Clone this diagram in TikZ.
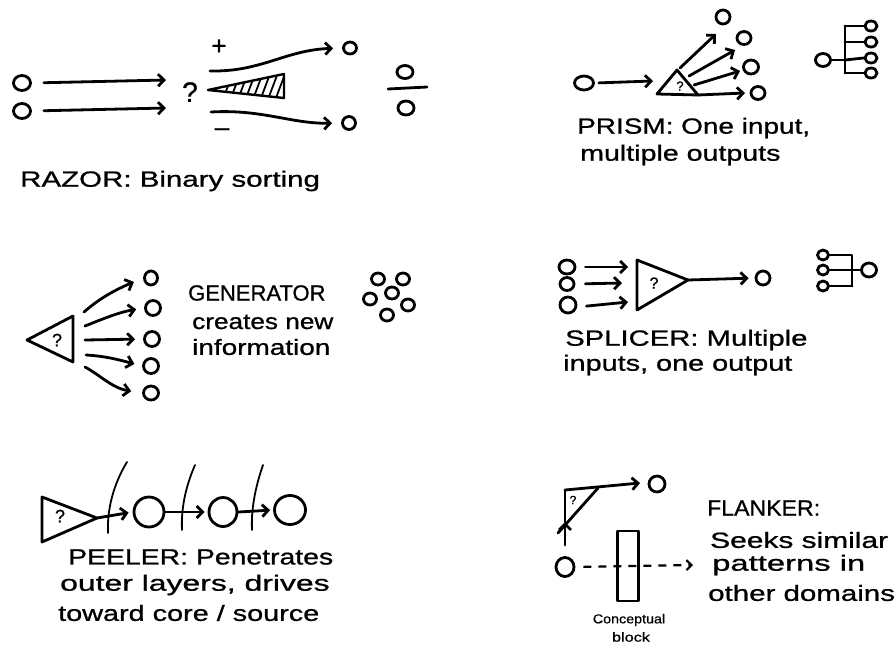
\documentclass[tikz,border=0pt]{standalone}
\usepackage{fontspec}
\setmainfont{Liberation Sans}[FakeBold=0.8,UprightFeatures={FakeBold=0.8}]
\usetikzlibrary{arrows.meta,shapes.geometric}
\newcommand\hx[2]{\scalebox{#1}[1]{#2}}
\begin{document}
\begin{tikzpicture}[x=1pt,y=-1pt,
  ln/.style={line width=2.8pt,line cap=round,line join=round},
  thin/.style={line width=1.8pt,line cap=round},
  arr/.style={ln,-{Straight Barb[length=6pt,width=12pt]}},
  circ/.style={draw,ellipse,ln,inner sep=0pt},
  lbl/.style={anchor=west,inner sep=0pt,font=\fontsize{22}{26}\selectfont},
  qm/.style={inner sep=0pt,font=\fontsize{16}{16}\selectfont}]
\fill[white] (0,0) rectangle (896,648);
\useasboundingbox (0,0) rectangle (896,648);

% ---------------- RAZOR ----------------
\node[circ,minimum width=17pt,minimum height=15pt] (rin1) at (22,83) {};
\node[circ,minimum width=17pt,minimum height=15pt] (rin2) at (22,111) {};
\node[qm,font=\fontsize{28}{28}\selectfont] (rq) at (190,92) {?};
\coordinate (ra1) at (166,80);
\coordinate (ra2) at (166,108);
\draw[arr,shorten <=12pt] (rin1.east) -- (ra1);
\draw[arr,shorten <=12pt] (rin2.east) -- (ra2);
\node[circ,minimum width=13pt,minimum height=12pt] (rout1) at (350,48) {};
\node[circ,minimum width=13pt,minimum height=13pt] (rout2) at (349,123) {};
\coordinate (rc1) at (210,71);
\coordinate (rc2) at (211,112);
\draw[arr,shorten >=9pt] (rc1) .. controls (262,72) and (285,50) .. (rout1.west);
\draw[arr,shorten >=9pt] (rc2) .. controls (262,109) and (292,124) .. (rout2.west);
\node[inner sep=0pt,font=\fontsize{26}{26}\selectfont] (plus) at (219,47) {+};
\node[inner sep=0pt,font=\fontsize{26}{26}\selectfont] (minus) at (222,132) {–};
\coordinate (wt) at (208,90);
\coordinate (wa) at (284,74);
\coordinate (wb) at (284,98);
\begin{scope}
  \clip (wt) -- (wa) -- (wb) -- cycle;
  \foreach \i in {0,...,12} \draw[line width=1.8pt] (222+\i*7.5,102) -- (234+\i*7.5,70);
\end{scope}
\draw[line width=2.4pt,line join=round] (wt) -- (wa) -- (wb) -- cycle;
\node[circ,minimum width=16pt,minimum height=13pt] (fr1) at (405,72) {};
\coordinate (fl1) at (388,89);
\coordinate (fl2) at (427,87);
\draw[ln] (fl1) -- (fl2);
\node[circ,minimum width=16pt,minimum height=14pt] (fr2) at (406,108) {};
\node[lbl] (razor) at (20,181) {\hx{1.34}{RAZOR: Binary sorting}};

% ---------------- PRISM ----------------
\node[circ,minimum width=19pt,minimum height=14pt] (pin) at (584,83) {};
\coordinate (pt1) at (657,94);
\coordinate (pt2) at (677,70);
\coordinate (pt3) at (698,95);
\coordinate (pa0) at (653,81);
\draw[arr,shorten <=4pt] (pin.east) -- (pa0);
\draw[ln] (pt1) -- (pt2) -- (pt3) -- cycle;
\node[qm,font=\fontsize{13}{13}\selectfont] (pq) at (680,86) {?};
\node[circ,minimum width=14pt,minimum height=14pt] (po1) at (723,17) {};
\node[circ,minimum width=14pt,minimum height=13pt] (po2) at (744,38) {};
\node[circ,minimum width=15pt,minimum height=14pt] (po3) at (751,67) {};
\node[circ,minimum width=14pt,minimum height=13pt] (po4) at (758,93) {};
\coordinate (ps1) at (680,68);
\coordinate (ps2) at (689,76);
\coordinate (ps3) at (694,85);
\coordinate (pe1) at (716,34);
\coordinate (pe2) at (735,50);
\coordinate (pe3) at (740,71);
\coordinate (pe4) at (745,93);
\draw[arr] (ps1) -- (pe1);
\draw[arr] (ps2) -- (pe2);
\draw[arr] (ps3) -- (pe3);
\draw[arr] (pt3) -- (pe4);
\node[circ,minimum width=15pt,minimum height=13pt] (tin) at (823,60) {};
\coordinate (tj) at (845,60);
\coordinate (t1) at (845,26);
\coordinate (t2) at (845,42);
\coordinate (t4) at (845,73);
\node[circ,minimum width=12pt,minimum height=10pt] (to1) at (871,26) {};
\node[circ,minimum width=12pt,minimum height=10pt] (to2) at (871,42) {};
\node[circ,minimum width=12pt,minimum height=10pt] (to3) at (871,58) {};
\node[circ,minimum width=12pt,minimum height=10pt] (to4) at (871,73) {};
\draw[ln] (tin.east) -- (tj);
\draw[ln] (t1) -- (t4);
\draw[ln] (t1) -- (to1.west);
\draw[ln] (t2) -- (to2.west);
\draw[ln] (tj) -- (to3.west);
\draw[ln] (t4) -- (to4.west);
\node[lbl] (prism1) at (577,128) {\hx{1.27}{PRISM: One input,}};
\node[lbl] (prism2) at (580,155) {\hx{1.30}{multiple outputs}};

% ---------------- GENERATOR ----------------
\coordinate (gt) at (27,340);
\coordinate (gu) at (73,316);
\coordinate (gd) at (73,362);
\draw[ln] (gt) -- (gu) -- (gd) -- cycle;
\node[qm,font=\fontsize{18}{18}\selectfont] (gq) at (57,340) {?};
\node[circ,minimum width=13pt,minimum height=14pt] (g1) at (151,278) {};
\node[circ,minimum width=15pt,minimum height=15pt] (g2) at (153,308) {};
\node[circ,minimum width=15pt,minimum height=15pt] (g3) at (152,339) {};
\node[circ,minimum width=15pt,minimum height=15pt] (g4) at (151,366) {};
\node[circ,minimum width=15pt,minimum height=14pt] (g5) at (151,393) {};
\coordinate (gs1) at (84,312);
\coordinate (gs2) at (85,326);
\coordinate (gs3) at (85,340);
\coordinate (gs4) at (86,355);
\coordinate (gs5) at (85,367);
\draw[arr,shorten >=10pt] (gs1) .. controls (100,298) and (115,290) .. (g1.west);
\draw[arr,shorten >=8pt] (gs2) .. controls (105,318) and (120,312) .. (g2.west);
\draw[arr,shorten >=8pt] (gs3) -- (g3.west);
\draw[arr,shorten >=8pt] (gs4) .. controls (105,356) and (120,360) .. (g4.west);
\draw[arr,shorten >=11pt] (gs5) .. controls (100,375) and (112,388) .. (g5.west);
\node[lbl] (gen1) at (188,293) {\hx{1.0}{GENERATOR}};
\node[lbl] (gen2) at (192,322) {\hx{1.19}{creates new}};
\node[lbl] (gen3) at (192,347) {\hx{1.27}{information}};
\node[circ,minimum width=13pt,minimum height=12pt] (c1) at (378,279) {};
\node[circ,minimum width=13pt,minimum height=12pt] (c2) at (403,279) {};
\node[circ,minimum width=13pt,minimum height=12pt] (c3) at (392,293) {};
\node[circ,minimum width=13pt,minimum height=12pt] (c4) at (370,299) {};
\node[circ,minimum width=13pt,minimum height=12pt] (c5) at (408,305) {};
\node[circ,minimum width=13pt,minimum height=12pt] (c6) at (387,315) {};

% ---------------- SPLICER ----------------
\node[circ,minimum width=16pt,minimum height=14pt] (s1) at (567,267) {};
\node[circ,minimum width=14pt,minimum height=13pt] (s2) at (567,284) {};
\node[circ,minimum width=16pt,minimum height=16pt] (s3) at (568,305) {};
\coordinate (sx1) at (628,267);
\coordinate (sx2) at (622,283);
\coordinate (sx3) at (628,302);
\draw[arr,shorten <=9pt] (s1.east) -- (sx1);
\draw[arr,shorten <=10pt] (s2.east) -- (sx2);
\draw[arr,shorten <=9pt] ([yshift=-2pt]s3.east) -- (sx3);
\coordinate (sa) at (637,260);
\coordinate (sb) at (637,310);
\coordinate (sc) at (688,280);
\draw[ln] (sa) -- (sc) -- (sb) -- cycle;
\node[qm] (sq) at (654,283) {?};
\node[circ,minimum width=14pt,minimum height=14pt] (so) at (763,278) {};
\draw[arr,shorten >=6pt] (sc) -- (so.west);
\node[circ,minimum width=11pt,minimum height=10pt] (i1) at (823,255) {};
\node[circ,minimum width=11pt,minimum height=10pt] (i2) at (823,270) {};
\node[circ,minimum width=11pt,minimum height=10pt] (i3) at (823,286) {};
\node[circ,minimum width=15pt,minimum height=14pt] (io) at (869,270) {};
\coordinate (ij1) at (852,255);
\coordinate (ij2) at (852,270);
\coordinate (ij3) at (852,286);
\draw[ln] (i1.east) -- (ij1) -- (ij3);
\draw[ln] (i2.east) -- (ij2) -- (io.west);
\draw[ln] (i3.east) -- (ij3);
\node[lbl] (spl1) at (565,340) {\hx{1.33}{SPLICER: Multiple}};
\node[lbl] (spl2) at (563,365) {\hx{1.31}{inputs, one output}};

% ---------------- PEELER ----------------
\coordinate (ea) at (42,497);
\coordinate (eb) at (42,542);
\coordinate (ec) at (97,518);
\draw[ln] (ea) -- (ec) -- (eb) -- cycle;
\node[qm,font=\fontsize{18}{18}\selectfont] (eq) at (60,516) {?};
\node[circ,minimum width=30pt,minimum height=30pt] (pc1) at (149,512) {};
\node[circ,minimum width=28pt,minimum height=29pt] (pc2) at (223,512) {};
\node[circ,minimum width=31pt,minimum height=29pt] (pc3) at (290,510) {};
\draw[arr,shorten >=4pt] (ec) -- (pc1.west);
\draw[arr,shorten >=3pt] (pc1.east) -- (pc2.west);
\draw[arr,shorten >=3pt] (pc2.east) -- (pc3.west);
\coordinate (la1) at (127,462);
\coordinate (lb1) at (108,533);
\coordinate (la2) at (195,465);
\coordinate (lb2) at (182,530);
\coordinate (la3) at (263,465);
\coordinate (lb3) at (252,530);
\draw[thin] (la1) .. controls (113,485) and (107,510) .. (lb1);
\draw[thin] (la2) .. controls (185,488) and (181,510) .. (lb2);
\draw[thin] (la3) .. controls (255,488) and (251,510) .. (lb3);
\node[lbl] (pee1) at (68,557) {\hx{1.29}{PEELER: Penetrates}};
\node[lbl] (pee2) at (60,585) {\hx{1.45}{outer layers, drives}};
\node[lbl] (pee3) at (58,613) {\hx{1.31}{toward core / source}};

% ---------------- FLANKER ----------------
\coordinate (fa) at (565,490);
\coordinate (fb) at (598,488);
\coordinate (fd) at (558,533);
\coordinate (fx) at (565,522);
\coordinate (fe) at (640,483);
\node[circ,minimum width=16pt,minimum height=16pt] (fo) at (657,484) {};
\node[circ,minimum width=18pt,minimum height=19pt] (fl) at (565,567) {};
\draw[arr] (fa) -- (fe);
\draw[ln] (fb) -- (fd);
\draw[ln] (fa) -- (fx);
\draw[arr,shorten <=11pt] (fl.north) -- (fx);
\node[qm,font=\fontsize{12}{12}\selectfont] (fq) at (573,500) {?};
\node[draw,ln,minimum width=21pt,minimum height=70pt,inner sep=0pt] (blk) at (628,566) {};
\coordinate (fe2) at (693,565);
\draw[line width=2.2pt,dash pattern=on 8pt off 7pt,-{Straight Barb[length=5pt,width=10pt]},shorten <=8pt] (fl.east) -- (fe2);
\node[inner sep=0pt,font=\fontsize{13}{15}\selectfont] (cb1) at (629,620) {\hx{1.1}{Conceptual}};
\node[inner sep=0pt,font=\fontsize{13}{15}\selectfont] (cb2) at (631,637) {\hx{1.25}{block}};
\node[lbl] (fla1) at (707,508) {\hx{1.05}{FLANKER:}};
\node[lbl] (fla2) at (710,540) {\hx{1.36}{Seeks similar}};
\node[lbl] (fla3) at (712,565) {\hx{1.49}{patterns in}};
\node[lbl] (fla4) at (708,593) {\hx{1.34}{other domains}};
\end{tikzpicture}
\end{document}
